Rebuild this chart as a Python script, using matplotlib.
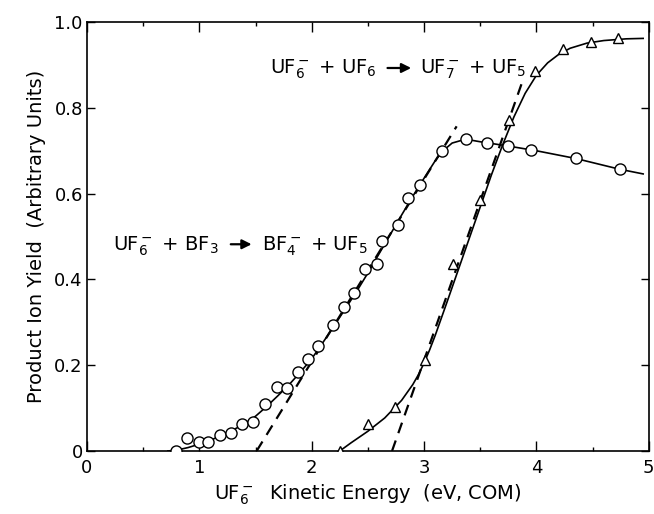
import matplotlib.pyplot as plt
import numpy as np

# UF6- + BF3 -> BF4- + UF5  (circles)
bf4_x = [0.79, 0.89, 1.00, 1.08, 1.18, 1.28, 1.38, 1.48, 1.58, 1.69, 1.78, 1.88, 1.97,
         2.06, 2.19, 2.29, 2.38, 2.47, 2.58, 2.63, 2.77, 2.86, 2.96, 3.16, 3.37, 3.56,
         3.75, 3.95, 4.35, 4.74]
bf4_y = [0.0, 0.03, 0.02, 0.022, 0.037, 0.041, 0.063, 0.067, 0.11, 0.15, 0.148, 0.184,
         0.214, 0.245, 0.294, 0.336, 0.368, 0.424, 0.437, 0.49, 0.528, 0.589, 0.62,
         0.70, 0.727, 0.718, 0.711, 0.702, 0.682, 0.657]

# smooth curve drawn through the circles
bf4_fit_x = [0.72, 0.80, 0.90, 1.00, 1.10, 1.20, 1.30, 1.40, 1.50, 1.60, 1.70, 1.80, 1.90,
             2.00, 2.10, 2.20, 2.30, 2.40, 2.50, 2.60, 2.70, 2.80, 2.90, 3.00, 3.10, 3.16,
             3.25, 3.37, 3.50, 3.75, 4.00, 4.35, 4.74, 4.95]
bf4_fit_y = [0.0, 0.002, 0.008, 0.016, 0.025, 0.037, 0.049, 0.063, 0.081, 0.104, 0.129,
             0.155, 0.184, 0.215, 0.253, 0.292, 0.332, 0.372, 0.415, 0.460, 0.505, 0.550,
             0.594, 0.636, 0.677, 0.698, 0.718, 0.727, 0.721, 0.711, 0.700, 0.682, 0.657,
             0.646]

# UF6- + UF6 -> UF7- + UF5  (triangles)
uf7_x = [2.25, 2.50, 2.74, 3.01, 3.26, 3.50, 3.76, 3.99, 4.24, 4.49, 4.73]
uf7_y = [0.0, 0.063, 0.102, 0.212, 0.436, 0.585, 0.771, 0.886, 0.937, 0.954, 0.963]

uf7_fit_x = [2.25, 2.35, 2.50, 2.65, 2.80, 2.90, 2.95, 3.00, 3.05, 3.10, 3.20, 3.30, 3.40,
             3.50, 3.60, 3.70, 3.80, 3.90, 4.00, 4.10, 4.20, 4.30, 4.45, 4.60, 4.80, 4.95]
uf7_fit_y = [0.0, 0.019, 0.046, 0.077, 0.118, 0.155, 0.178, 0.205, 0.236, 0.270, 0.344,
             0.419, 0.494, 0.569, 0.644, 0.714, 0.779, 0.834, 0.876, 0.905, 0.925, 0.939,
             0.951, 0.957, 0.961, 0.962]

# threshold extrapolations (dashed)
bf4_dash_x = [1.51, 3.29]
bf4_dash_y = [0.0, 0.757]
uf7_dash_x = [2.715, 3.88]
uf7_dash_y = [0.0, 0.865]

xticks = [0, 1, 2, 3, 4, 5]
xlabels = ['0', '1', '2', '3', '4', '5']
yticks = [0, 0.2, 0.4, 0.6, 0.8, 1.0]
ylabels = ['0', '0.2', '0.4', '0.6', '0.8', '1.0']

plt.rcParams['font.family'] = ['DejaVu Sans']
plt.rcParams['mathtext.fontset'] = 'dejavusans'

fig = plt.figure(figsize=(6.54, 5.14), dpi=100)
ax = fig.add_axes([0.133, 0.1226, 0.859, 0.8344])

ax.plot(bf4_fit_x, bf4_fit_y, color='k', lw=1.2, zorder=2)
ax.plot(uf7_fit_x, uf7_fit_y, color='k', lw=1.2, zorder=2)
ax.plot(bf4_dash_x, bf4_dash_y, color='k', lw=1.6, ls=(0, (5, 3.5)), zorder=2)
ax.plot(uf7_dash_x, uf7_dash_y, color='k', lw=1.6, ls=(0, (5, 3.5)), zorder=2)
ax.plot(bf4_x, bf4_y, ls='none', marker='o', ms=8, mfc='white', mec='k', mew=1.0, zorder=3)
ax.plot(uf7_x, uf7_y, ls='none', marker='^', ms=7.5, mfc='white', mec='k', mew=1.0, zorder=3)

ax.set_xlim(0, 5)
ax.set_ylim(0, 1.0)
ax.set_xticks(xticks)
ax.set_xticklabels(xlabels)
ax.set_yticks(yticks)
ax.set_yticklabels(ylabels)
ax.set_xticks(np.arange(0.5, 5, 1.0), minor=True)
ax.tick_params(which='both', direction='in', top=True, right=True, labelsize=13, width=1.0)
ax.tick_params(axis='x', which='major', length=7, pad=6)
ax.tick_params(axis='x', which='minor', length=3)
ax.tick_params(axis='y', which='major', length=6, pad=3)
for s in ax.spines.values():
    s.set_linewidth(1.2)

ax.set_xlabel('UF$_6^-$  Kinetic Energy  (eV, COM)', fontsize=14, labelpad=4)
ax.set_ylabel('Product Ion Yield  (Arbitrary Units)', fontsize=14, labelpad=6)

# reaction labels with filled arrows
ax.text(1.63, 0.879, 'UF$_6^-$ + UF$_6$', fontsize=14, va='baseline', ha='left')
ax.annotate('', xy=(2.91, 0.893), xytext=(2.65, 0.893),
            arrowprops=dict(arrowstyle='-|>', lw=1.6, color='k', mutation_scale=14))
ax.text(2.96, 0.879, 'UF$_7^-$ + UF$_5$', fontsize=14, va='baseline', ha='left')

ax.text(0.233, 0.467, 'UF$_6^-$ + BF$_3$', fontsize=14, va='baseline', ha='left')
ax.annotate('', xy=(1.49, 0.482), xytext=(1.255, 0.482),
            arrowprops=dict(arrowstyle='-|>', lw=1.6, color='k', mutation_scale=14))
ax.text(1.557, 0.467, 'BF$_4^-$ + UF$_5$', fontsize=14, va='baseline', ha='left')

fig.savefig('out.png', dpi=100)
